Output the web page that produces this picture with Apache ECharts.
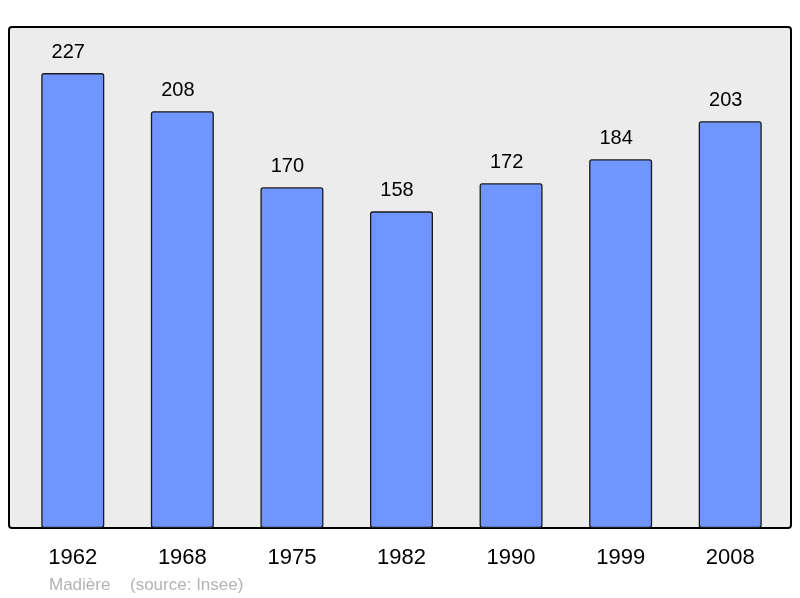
<!DOCTYPE html>
<html><head><meta charset="utf-8">
<script src="https://cdn.jsdelivr.net/npm/echarts@6/dist/echarts.min.js"></script>
<style>html,body{margin:0;padding:0;background:#fff}#c{width:800px;height:598px}</style>
</head><body><div id="c"></div>
<script>
const years = ['1962','1968','1975','1982','1990','1999','2008'];
const population = [227, 208, 170, 158, 172, 184, 203];
const chart = echarts.init(document.getElementById('c'), null, {renderer:'canvas'});
chart.setOption({
  animation:false,
  backgroundColor:'#ffffff',
  graphic:[
    {type:'rect', z:-10, shape:{x:9, y:27, width:782, height:501, r:3},
     style:{fill:'#ececec', stroke:'#000', lineWidth:2}},
    {type:'text', left:49, top:577, style:{text:'Madière', fill:'#b3b3b3', font:'17px "Liberation Sans", Arial, sans-serif'}},
    {type:'text', left:130, top:577, style:{text:'(source: Insee)', fill:'#b3b3b3', font:'17px "Liberation Sans", Arial, sans-serif'}}
  ],
  grid:{left:18, right:15, top:27, bottom:70},
  xAxis:{type:'category', data:years, axisLine:{show:false}, axisTick:{show:false},
    axisLabel:{fontSize:22, color:'#000', margin:19, fontFamily:'"Liberation Sans", Arial, sans-serif'}},
  yAxis:{type:'value', min:0, max:250, show:false, splitLine:{show:false}},
  series:[{type:'bar', data:population, barWidth:63,
    itemStyle:{color:'#7095ff', borderColor:'#1a1a1a', borderWidth:1.3, borderRadius:2},
    label:{show:true, position:'top', distance:11, offset:[-4.5,0], fontSize:20, color:'#000', fontFamily:'"Liberation Sans", Arial, sans-serif'}}]
});
</script></body></html>
